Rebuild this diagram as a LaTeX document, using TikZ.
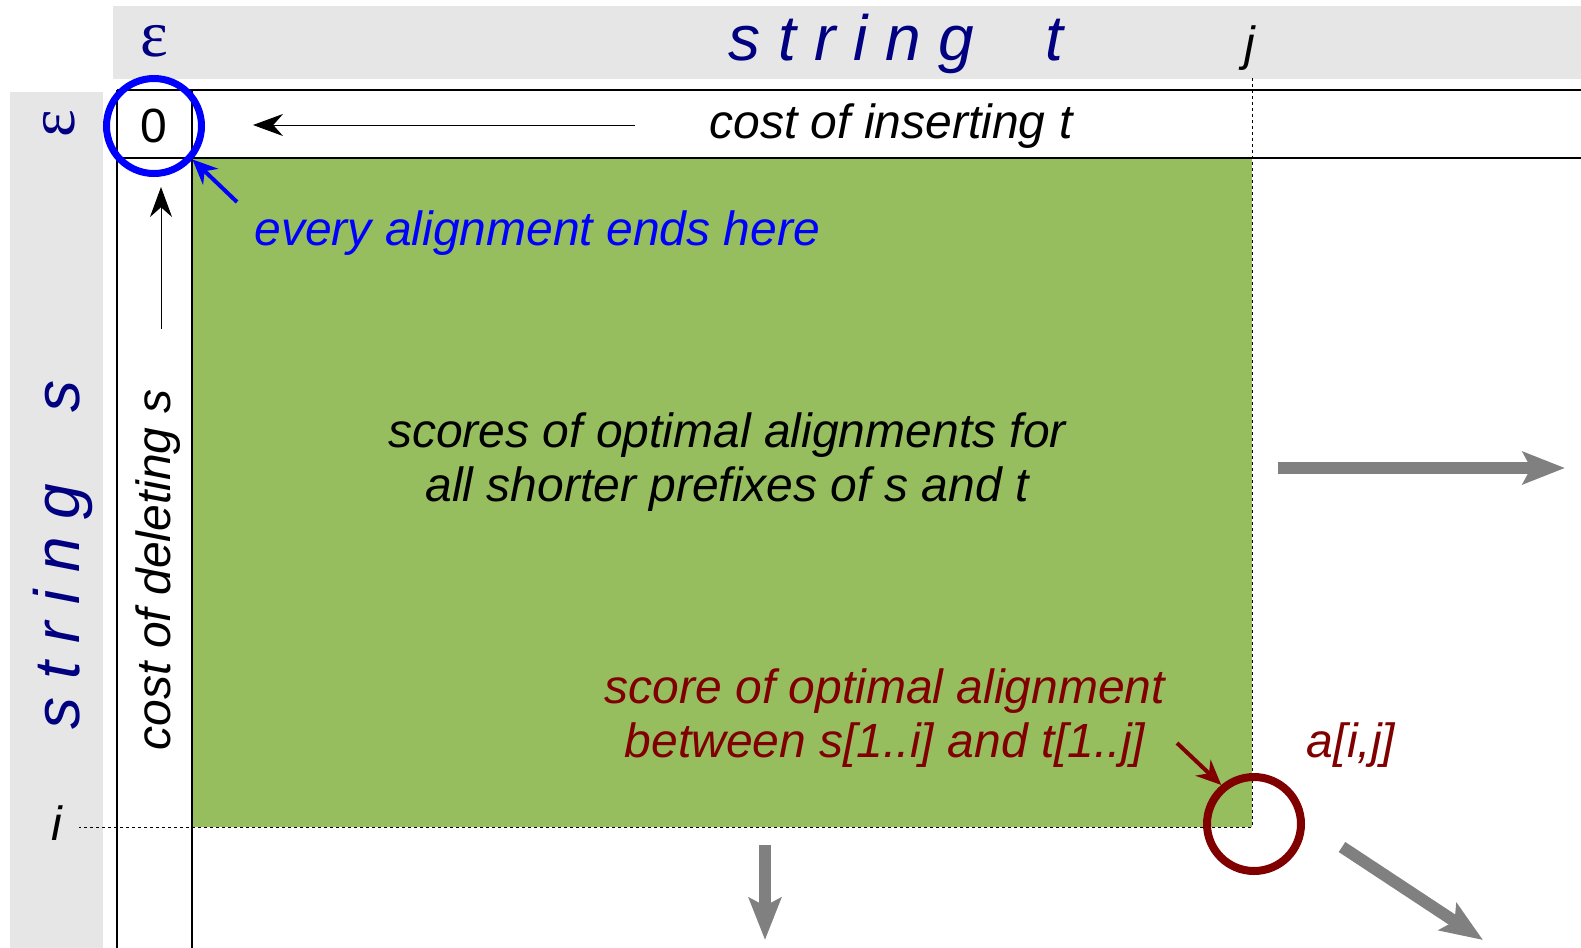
\documentclass[tikz,border=0pt]{standalone}
\usepackage{fontspec}
\setmainfont{Liberation Sans}
\newfontfamily\serifgr{Liberation Serif}
\usetikzlibrary{arrows.meta}
\definecolor{bandgray}{RGB}{230,230,230}
\definecolor{cellgreen}{RGB}{150,190,95}
\definecolor{navy}{RGB}{0,0,128}
\definecolor{darkred}{RGB}{128,0,0}
\definecolor{arrowgray}{RGB}{128,128,128}
\tikzset{
  lbl/.style={font=\fontsize{24}{27}\selectfont\itshape,inner sep=0pt},
  big/.style={font=\fontsize{32}{36}\selectfont\itshape,text=navy,inner sep=0pt},
  eps/.style={font=\fontsize{33}{36}\selectfont\serifgr,text=navy,inner sep=0pt},
  ring/.style={circle,draw,inner sep=0pt},
  arr/.style={-{Stealth[length=15pt,width=11pt]},line width=0.5pt},
  carr/.style={-{Stealth[length=12.5pt,width=11pt]},line width=2pt},
  garr/.style={-{Stealth[length=21pt,width=16pt,inset=4pt]},line width=6pt,draw=arrowgray},
  rule/.style={line width=1pt},
  guide/.style={line width=0.5pt,dash pattern=on 1.5pt off 1.5pt},
}
\begin{document}
\begin{tikzpicture}[x=0.5pt,y=-0.5pt]
\useasboundingbox (0,0) rectangle (1581,948);
% bands and the filled block
\fill[bandgray] (113,6) rectangle (1581,79);
\fill[bandgray] (10,92) rectangle (103,948);
\fill[cellgreen] (192,158) rectangle (1252,827);
\draw[rule] (117,90) -- (1581,90) (117,158) -- (1581,158) (117,90) -- (117,948) (192,90) -- (192,948);
\draw[guide] (1252,78) -- (1252,827) -- (79,827);
% headers
\node[big,anchor=base] (strt) at (896,60) {s~t~r~i~n~g~~~~t};
\node[big,anchor=base,rotate=90] (strs) at (79,555) {s~t~r~i~n~g~~~~s};
\node[eps,anchor=base] (epst) at (154,56) {ε};
\node[eps,anchor=base,rotate=90] (epss) at (75,124) {ε};
\node[lbl,anchor=base] (jl) at (1250,60) {j};
\node[lbl,anchor=base] (il) at (57,840) {i};
% cells
\node[ring,draw=blue,line width=3.5pt,minimum size=47.5pt,font=\fontsize{24}{27}\selectfont] (zero) at (154,126) {0};
\node[ring,draw=darkred,line width=4pt,minimum size=47pt] (aij) at (1254,824) {};
\node[lbl,anchor=base] (ins) at (891,138) {cost of inserting t};
\node[lbl,anchor=base,rotate=90] (del) at (170,570) {cost of deleting s};
\node[lbl,anchor=base west,text=blue] (ends) at (254,245) {every alignment ends here};
\node[lbl,align=center] (pref) at (727,462) {scores of optimal alignments for\\all shorter prefixes of s and t};
\node[lbl,align=center,text=darkred] (opt) at (885,718) {score of optimal alignment\\between s[1..i] and t[1..j]};
\node[lbl,anchor=base,text=darkred] (al) at (1351,757) {a[i,j]};
% arrows
\coordinate (ia) at (635,125); \coordinate (ib) at (253,125);
\coordinate (da) at (161,329); \coordinate (db) at (161,187);
\coordinate (ba) at (237,202); \coordinate (ra) at (1177,743);
\coordinate (ga) at (1278,468); \coordinate (gb) at (1565,468);
\coordinate (gc) at (765,845); \coordinate (gd) at (765,940);
\coordinate (ge) at (1342,847); \coordinate (gf) at (1483,940);
\draw[arr] (ia) -- (ib);
\draw[arr] (da) -- (db);
\draw[carr,blue] (ba) -- (zero.-41);
\draw[carr,darkred] (ra) -- (aij.130);
\draw[garr] (ga) -- (gb);
\draw[garr] (gc) -- (gd);
\draw[garr] (ge) -- (gf);
\end{tikzpicture}
\end{document}
